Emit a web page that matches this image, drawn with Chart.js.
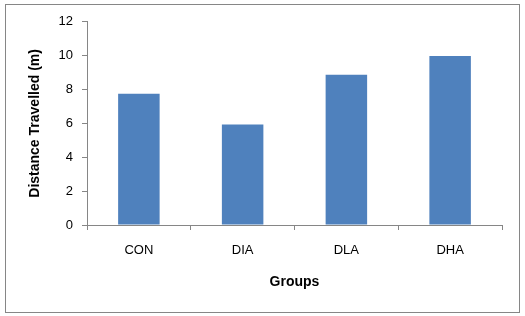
<!DOCTYPE html>
<html>
<head>
<meta charset="utf-8">
<script src="https://cdn.jsdelivr.net/npm/chart.js@4/dist/chart.umd.min.js"></script>
<style>
  html, body { margin: 0; padding: 0; background: #fff; }
  .frame {
    position: absolute; left: 5px; top: 4px;
    width: 513px; height: 307px;
    border: 1px solid #868686;
  }
  canvas { display: block; }
</style>
</head>
<body>
<div class="frame">
  <canvas id="chart" width="513" height="307"></canvas>
</div>
<script>
const groups = ['CON', 'DIA', 'DLA', 'DHA'];
const distance = [7.75, 5.93, 8.87, 9.98];
const yMin = 0;
const yMax = 12;
const yStep = 2;

const axisGray = '#868686';
const barBlue = '#4F81BD';
const fontFamily = '"Liberation Sans", Arial, sans-serif';

const ctx = document.getElementById('chart').getContext('2d');
new Chart(ctx, {
  type: 'bar',
  data: {
    labels: groups,
    datasets: [{
      label: 'Distance Travelled (m)',
      data: distance,
      backgroundColor: barBlue,
      borderWidth: 0,
      barPercentage: 0.4,
      categoryPercentage: 1
    }]
  },
  options: {
    responsive: false,
    animation: false,
    layout: { padding: { left: 0, right: 17, top: 16, bottom: 0 } },
    plugins: {
      legend: { display: false },
      tooltip: { enabled: false }
    },
    scales: {
      x: {
        afterFit: (scale) => { scale.height = 87; },
        grid: {
          offset: true,
          drawOnChartArea: false,
          tickLength: 5,
          color: axisGray
        },
        border: { color: axisGray, width: 1 },
        ticks: {
          padding: 13,
          color: '#000',
          font: { family: fontFamily, size: 13 }
        },
        title: {
          display: true,
          text: 'Groups',
          color: '#000',
          padding: { top: 0, bottom: 21 },
          font: { family: fontFamily, size: 14, weight: 'bold' }
        }
      },
      y: {
        min: yMin,
        max: yMax,
        afterFit: (scale) => { scale.width = 81; },
        grid: {
          drawOnChartArea: false,
          tickLength: 5,
          color: axisGray
        },
        border: { color: axisGray, width: 1 },
        ticks: {
          stepSize: yStep,
          padding: 9,
          color: '#000',
          font: { family: fontFamily, size: 13 }
        },
        title: {
          display: true,
          text: 'Distance Travelled (m)',
          color: '#000',
          padding: { top: 21, bottom: 0 },
          font: { family: fontFamily, size: 14, weight: 'bold' }
        }
      }
    }
  }
});
</script>
</body>
</html>
